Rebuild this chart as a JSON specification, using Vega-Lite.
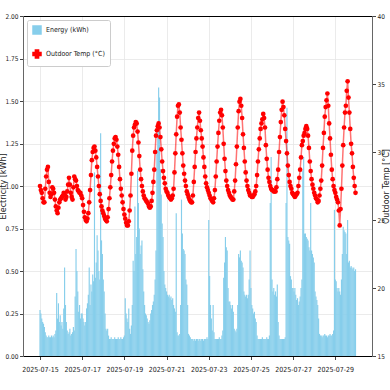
{
"$schema": "https://vega.github.io/schema/vega-lite/v6.json",
"width": 349, "height": 340,
"autosize": {"type": "none"},
"padding": {"left": 23, "top": 16, "right": 18, "bottom": 34},
"background": "white",
"config": {"view": {"stroke": null}, "axis": {"labelFont": "Liberation Sans Narrow, DejaVu Sans Condensed, Liberation Sans, sans-serif", "labelColor": "#222", "tickColor": "#444", "tickSize": 3.5, "gridColor": "#e6e6e6", "gridWidth": 0.8, "titleFont": "DejaVu Sans, sans-serif", "titleFontWeight": "normal", "titleColor": "#222", "titleFontSize": 8}},
"data": {"values": [
{"t":"2025-07-15T00:00","e":0.27,"c":27.5},{"t":"2025-07-15T01:00","e":0.25,"c":27.2},{"t":"2025-07-15T02:00","e":0.22,"c":27.0},{"t":"2025-07-15T03:00","e":0.20,"c":26.6},{"t":"2025-07-15T04:00","e":0.19,"c":26.3},{"t":"2025-07-15T05:00","e":0.17,"c":26.3},{"t":"2025-07-15T06:00","e":0.14,"c":27.3},{"t":"2025-07-15T07:00","e":0.12,"c":28.2},{"t":"2025-07-15T08:00","e":0.11,"c":28.7},{"t":"2025-07-15T09:00","e":0.11,"c":28.9},{"t":"2025-07-15T10:00","e":0.12,"c":27.8},{"t":"2025-07-15T11:00","e":0.11,"c":27.0},{"t":"2025-07-15T12:00","e":0.11,"c":26.7},{"t":"2025-07-15T13:00","e":0.12,"c":26.9},{"t":"2025-07-15T14:00","e":0.11,"c":27.4},{"t":"2025-07-15T15:00","e":0.12,"c":27.3},{"t":"2025-07-15T16:00","e":0.11,"c":27.0},{"t":"2025-07-15T17:00","e":0.13,"c":26.5},{"t":"2025-07-15T18:00","e":0.15,"c":26.0},{"t":"2025-07-15T19:00","e":0.37,"c":25.7},{"t":"2025-07-15T20:00","e":0.22,"c":25.5},{"t":"2025-07-15T21:00","e":0.31,"c":25.9},{"t":"2025-07-15T22:00","e":0.20,"c":26.3},{"t":"2025-07-15T23:00","e":0.24,"c":26.5},
{"t":"2025-07-16T00:00","e":0.18,"c":26.6},{"t":"2025-07-16T01:00","e":0.20,"c":26.7},{"t":"2025-07-16T02:00","e":0.16,"c":26.8},{"t":"2025-07-16T03:00","e":0.28,"c":27.0},{"t":"2025-07-16T04:00","e":0.52,"c":26.9},{"t":"2025-07-16T05:00","e":0.30,"c":26.5},{"t":"2025-07-16T06:00","e":0.20,"c":26.7},{"t":"2025-07-16T07:00","e":0.15,"c":27.1},{"t":"2025-07-16T08:00","e":0.13,"c":27.6},{"t":"2025-07-16T09:00","e":0.14,"c":28.1},{"t":"2025-07-16T10:00","e":0.16,"c":27.6},{"t":"2025-07-16T11:00","e":0.12,"c":27.0},{"t":"2025-07-16T12:00","e":0.13,"c":26.7},{"t":"2025-07-16T13:00","e":0.14,"c":26.5},{"t":"2025-07-16T14:00","e":0.17,"c":27.4},{"t":"2025-07-16T15:00","e":0.15,"c":28.2},{"t":"2025-07-16T16:00","e":0.35,"c":28.0},{"t":"2025-07-16T17:00","e":0.63,"c":27.9},{"t":"2025-07-16T18:00","e":0.50,"c":27.5},{"t":"2025-07-16T19:00","e":0.38,"c":27.2},{"t":"2025-07-16T20:00","e":0.26,"c":27.1},{"t":"2025-07-16T21:00","e":0.30,"c":27.0},{"t":"2025-07-16T22:00","e":0.22,"c":27.0},{"t":"2025-07-16T23:00","e":0.25,"c":26.8},
{"t":"2025-07-17T00:00","e":0.25,"c":26.6},{"t":"2025-07-17T01:00","e":0.22,"c":26.1},{"t":"2025-07-17T02:00","e":0.20,"c":25.6},{"t":"2025-07-17T03:00","e":0.18,"c":25.2},{"t":"2025-07-17T04:00","e":0.20,"c":25.0},{"t":"2025-07-17T05:00","e":0.28,"c":24.9},{"t":"2025-07-17T06:00","e":0.31,"c":25.1},{"t":"2025-07-17T07:00","e":0.36,"c":25.5},{"t":"2025-07-17T08:00","e":0.52,"c":26.3},{"t":"2025-07-17T09:00","e":0.30,"c":27.2},{"t":"2025-07-17T10:00","e":0.42,"c":28.3},{"t":"2025-07-17T11:00","e":0.38,"c":29.4},{"t":"2025-07-17T12:00","e":0.48,"c":30.0},{"t":"2025-07-17T13:00","e":0.44,"c":30.3},{"t":"2025-07-17T14:00","e":1.08,"c":30.4},{"t":"2025-07-17T15:00","e":0.46,"c":30.1},{"t":"2025-07-17T16:00","e":0.55,"c":29.6},{"t":"2025-07-17T17:00","e":0.71,"c":28.9},{"t":"2025-07-17T18:00","e":0.62,"c":28.2},{"t":"2025-07-17T19:00","e":0.50,"c":27.5},{"t":"2025-07-17T20:00","e":0.45,"c":26.9},{"t":"2025-07-17T21:00","e":1.31,"c":26.4},{"t":"2025-07-17T22:00","e":0.68,"c":26.0},{"t":"2025-07-17T23:00","e":0.60,"c":25.7},
{"t":"2025-07-18T00:00","e":0.45,"c":25.5},{"t":"2025-07-18T01:00","e":0.38,"c":25.3},{"t":"2025-07-18T02:00","e":0.25,"c":25.1},{"t":"2025-07-18T03:00","e":0.16,"c":25.0},{"t":"2025-07-18T04:00","e":0.15,"c":24.9},{"t":"2025-07-18T05:00","e":0.16,"c":25.2},{"t":"2025-07-18T06:00","e":0.12,"c":25.8},{"t":"2025-07-18T07:00","e":0.10,"c":26.6},{"t":"2025-07-18T08:00","e":0.10,"c":27.4},{"t":"2025-07-18T09:00","e":0.11,"c":28.3},{"t":"2025-07-18T10:00","e":0.10,"c":29.3},{"t":"2025-07-18T11:00","e":0.10,"c":30.1},{"t":"2025-07-18T12:00","e":0.10,"c":30.6},{"t":"2025-07-18T13:00","e":0.11,"c":31.0},{"t":"2025-07-18T14:00","e":0.10,"c":31.1},{"t":"2025-07-18T15:00","e":0.10,"c":30.9},{"t":"2025-07-18T16:00","e":0.10,"c":30.4},{"t":"2025-07-18T17:00","e":0.11,"c":29.8},{"t":"2025-07-18T18:00","e":0.10,"c":28.9},{"t":"2025-07-18T19:00","e":0.10,"c":28.0},{"t":"2025-07-18T20:00","e":0.11,"c":27.3},{"t":"2025-07-18T21:00","e":0.10,"c":26.8},{"t":"2025-07-18T22:00","e":0.10,"c":26.3},{"t":"2025-07-18T23:00","e":0.11,"c":25.8},
{"t":"2025-07-19T00:00","e":0.12,"c":25.4},{"t":"2025-07-19T01:00","e":0.34,"c":25.1},{"t":"2025-07-19T02:00","e":0.25,"c":24.8},{"t":"2025-07-19T03:00","e":0.22,"c":24.6},{"t":"2025-07-19T04:00","e":0.20,"c":24.6},{"t":"2025-07-19T05:00","e":0.28,"c":24.9},{"t":"2025-07-19T06:00","e":0.16,"c":25.7},{"t":"2025-07-19T07:00","e":0.13,"c":26.8},{"t":"2025-07-19T08:00","e":0.18,"c":28.4},{"t":"2025-07-19T09:00","e":0.30,"c":30.1},{"t":"2025-07-19T10:00","e":0.56,"c":31.2},{"t":"2025-07-19T11:00","e":0.50,"c":31.8},{"t":"2025-07-19T12:00","e":0.88,"c":32.0},{"t":"2025-07-19T13:00","e":0.60,"c":32.2},{"t":"2025-07-19T14:00","e":0.70,"c":32.1},{"t":"2025-07-19T15:00","e":1.09,"c":31.5},{"t":"2025-07-19T16:00","e":0.90,"c":30.7},{"t":"2025-07-19T17:00","e":0.75,"c":29.7},{"t":"2025-07-19T18:00","e":0.60,"c":28.7},{"t":"2025-07-19T19:00","e":0.65,"c":28.0},{"t":"2025-07-19T20:00","e":0.68,"c":27.5},{"t":"2025-07-19T21:00","e":0.51,"c":27.1},{"t":"2025-07-19T22:00","e":0.38,"c":26.8},{"t":"2025-07-19T23:00","e":0.30,"c":26.6},
{"t":"2025-07-20T00:00","e":0.25,"c":26.5},{"t":"2025-07-20T01:00","e":0.24,"c":26.4},{"t":"2025-07-20T02:00","e":0.22,"c":26.3},{"t":"2025-07-20T03:00","e":0.20,"c":26.2},{"t":"2025-07-20T04:00","e":0.19,"c":26.0},{"t":"2025-07-20T05:00","e":0.21,"c":25.9},{"t":"2025-07-20T06:00","e":0.25,"c":26.0},{"t":"2025-07-20T07:00","e":0.27,"c":26.4},{"t":"2025-07-20T08:00","e":0.30,"c":27.0},{"t":"2025-07-20T09:00","e":0.32,"c":27.8},{"t":"2025-07-20T10:00","e":0.36,"c":28.7},{"t":"2025-07-20T11:00","e":0.45,"c":30.0},{"t":"2025-07-20T12:00","e":0.62,"c":31.2},{"t":"2025-07-20T13:00","e":1.21,"c":31.6},{"t":"2025-07-20T14:00","e":1.33,"c":31.9},{"t":"2025-07-20T15:00","e":1.58,"c":32.1},{"t":"2025-07-20T16:00","e":1.52,"c":31.8},{"t":"2025-07-20T17:00","e":1.10,"c":31.1},{"t":"2025-07-20T18:00","e":0.95,"c":30.2},{"t":"2025-07-20T19:00","e":0.78,"c":29.3},{"t":"2025-07-20T20:00","e":0.70,"c":28.6},{"t":"2025-07-20T21:00","e":0.50,"c":28.1},{"t":"2025-07-20T22:00","e":0.42,"c":27.7},{"t":"2025-07-20T23:00","e":0.40,"c":27.3},
{"t":"2025-07-21T00:00","e":0.38,"c":27.1},{"t":"2025-07-21T01:00","e":0.36,"c":27.0},{"t":"2025-07-21T02:00","e":0.35,"c":26.8},{"t":"2025-07-21T03:00","e":0.36,"c":26.7},{"t":"2025-07-21T04:00","e":0.34,"c":26.6},{"t":"2025-07-21T05:00","e":0.35,"c":26.5},{"t":"2025-07-21T06:00","e":0.33,"c":26.6},{"t":"2025-07-21T07:00","e":0.34,"c":26.8},{"t":"2025-07-21T08:00","e":0.30,"c":27.3},{"t":"2025-07-21T09:00","e":0.28,"c":28.5},{"t":"2025-07-21T10:00","e":0.26,"c":29.9},{"t":"2025-07-21T11:00","e":0.84,"c":31.3},{"t":"2025-07-21T12:00","e":0.14,"c":32.6},{"t":"2025-07-21T13:00","e":0.12,"c":33.4},{"t":"2025-07-21T14:00","e":0.12,"c":33.5},{"t":"2025-07-21T15:00","e":0.13,"c":32.9},{"t":"2025-07-21T16:00","e":0.30,"c":31.8},{"t":"2025-07-21T17:00","e":0.92,"c":30.9},{"t":"2025-07-21T18:00","e":0.72,"c":29.9},{"t":"2025-07-21T19:00","e":0.63,"c":29.0},{"t":"2025-07-21T20:00","e":0.62,"c":28.4},{"t":"2025-07-21T21:00","e":0.60,"c":27.9},{"t":"2025-07-21T22:00","e":0.45,"c":27.5},{"t":"2025-07-21T23:00","e":0.42,"c":27.1},
{"t":"2025-07-22T00:00","e":0.30,"c":26.9},{"t":"2025-07-22T01:00","e":0.13,"c":26.7},{"t":"2025-07-22T02:00","e":0.12,"c":26.5},{"t":"2025-07-22T03:00","e":0.11,"c":26.4},{"t":"2025-07-22T04:00","e":0.10,"c":26.3},{"t":"2025-07-22T05:00","e":0.10,"c":26.3},{"t":"2025-07-22T06:00","e":0.10,"c":26.8},{"t":"2025-07-22T07:00","e":0.09,"c":27.8},{"t":"2025-07-22T08:00","e":0.10,"c":28.9},{"t":"2025-07-22T09:00","e":0.09,"c":30.0},{"t":"2025-07-22T10:00","e":0.10,"c":31.0},{"t":"2025-07-22T11:00","e":0.10,"c":31.8},{"t":"2025-07-22T12:00","e":0.09,"c":32.5},{"t":"2025-07-22T13:00","e":0.10,"c":32.9},{"t":"2025-07-22T14:00","e":0.10,"c":32.3},{"t":"2025-07-22T15:00","e":0.09,"c":31.6},{"t":"2025-07-22T16:00","e":0.10,"c":31.0},{"t":"2025-07-22T17:00","e":0.10,"c":30.4},{"t":"2025-07-22T18:00","e":0.09,"c":29.6},{"t":"2025-07-22T19:00","e":0.10,"c":28.9},{"t":"2025-07-22T20:00","e":0.10,"c":28.2},{"t":"2025-07-22T21:00","e":0.10,"c":27.7},{"t":"2025-07-22T22:00","e":0.11,"c":27.4},{"t":"2025-07-22T23:00","e":0.10,"c":27.2},
{"t":"2025-07-23T00:00","e":0.80,"c":27.0},{"t":"2025-07-23T01:00","e":0.47,"c":26.8},{"t":"2025-07-23T02:00","e":0.30,"c":26.6},{"t":"2025-07-23T03:00","e":0.22,"c":26.5},{"t":"2025-07-23T04:00","e":0.15,"c":26.4},{"t":"2025-07-23T05:00","e":0.30,"c":26.3},{"t":"2025-07-23T06:00","e":0.14,"c":26.6},{"t":"2025-07-23T07:00","e":0.10,"c":27.2},{"t":"2025-07-23T08:00","e":0.10,"c":28.2},{"t":"2025-07-23T09:00","e":0.10,"c":29.3},{"t":"2025-07-23T10:00","e":0.10,"c":30.4},{"t":"2025-07-23T11:00","e":0.10,"c":31.4},{"t":"2025-07-23T12:00","e":0.11,"c":32.3},{"t":"2025-07-23T13:00","e":0.10,"c":32.9},{"t":"2025-07-23T14:00","e":0.10,"c":33.1},{"t":"2025-07-23T15:00","e":0.12,"c":32.7},{"t":"2025-07-23T16:00","e":0.15,"c":31.8},{"t":"2025-07-23T17:00","e":0.46,"c":30.6},{"t":"2025-07-23T18:00","e":0.55,"c":29.5},{"t":"2025-07-23T19:00","e":0.70,"c":28.6},{"t":"2025-07-23T20:00","e":0.64,"c":27.9},{"t":"2025-07-23T21:00","e":0.62,"c":27.5},{"t":"2025-07-23T22:00","e":0.40,"c":27.2},{"t":"2025-07-23T23:00","e":0.32,"c":27.0},
{"t":"2025-07-24T00:00","e":0.32,"c":26.8},{"t":"2025-07-24T01:00","e":0.30,"c":26.7},{"t":"2025-07-24T02:00","e":0.28,"c":26.6},{"t":"2025-07-24T03:00","e":0.30,"c":26.5},{"t":"2025-07-24T04:00","e":0.26,"c":26.5},{"t":"2025-07-24T05:00","e":0.16,"c":27.1},{"t":"2025-07-24T06:00","e":0.15,"c":27.9},{"t":"2025-07-24T07:00","e":0.14,"c":29.1},{"t":"2025-07-24T08:00","e":0.16,"c":30.4},{"t":"2025-07-24T09:00","e":0.30,"c":31.8},{"t":"2025-07-24T10:00","e":0.60,"c":33.0},{"t":"2025-07-24T11:00","e":0.58,"c":33.7},{"t":"2025-07-24T12:00","e":0.62,"c":33.9},{"t":"2025-07-24T13:00","e":0.56,"c":33.4},{"t":"2025-07-24T14:00","e":0.55,"c":32.5},{"t":"2025-07-24T15:00","e":0.52,"c":31.3},{"t":"2025-07-24T16:00","e":0.38,"c":30.3},{"t":"2025-07-24T17:00","e":0.36,"c":29.3},{"t":"2025-07-24T18:00","e":0.35,"c":28.5},{"t":"2025-07-24T19:00","e":0.36,"c":27.9},{"t":"2025-07-24T20:00","e":0.34,"c":27.5},{"t":"2025-07-24T21:00","e":0.36,"c":27.2},{"t":"2025-07-24T22:00","e":0.45,"c":27.0},{"t":"2025-07-24T23:00","e":0.62,"c":26.8},
{"t":"2025-07-25T00:00","e":0.40,"c":26.8},{"t":"2025-07-25T01:00","e":0.30,"c":26.7},{"t":"2025-07-25T02:00","e":0.28,"c":26.7},{"t":"2025-07-25T03:00","e":0.25,"c":26.8},{"t":"2025-07-25T04:00","e":0.26,"c":26.9},{"t":"2025-07-25T05:00","e":0.22,"c":27.1},{"t":"2025-07-25T06:00","e":0.20,"c":27.5},{"t":"2025-07-25T07:00","e":0.12,"c":28.3},{"t":"2025-07-25T08:00","e":0.10,"c":29.3},{"t":"2025-07-25T09:00","e":0.10,"c":30.2},{"t":"2025-07-25T10:00","e":0.10,"c":31.0},{"t":"2025-07-25T11:00","e":0.10,"c":31.7},{"t":"2025-07-25T12:00","e":0.10,"c":32.1},{"t":"2025-07-25T13:00","e":0.11,"c":32.4},{"t":"2025-07-25T14:00","e":0.10,"c":32.8},{"t":"2025-07-25T15:00","e":0.10,"c":32.5},{"t":"2025-07-25T16:00","e":0.10,"c":31.8},{"t":"2025-07-25T17:00","e":0.10,"c":30.5},{"t":"2025-07-25T18:00","e":0.11,"c":29.5},{"t":"2025-07-25T19:00","e":0.10,"c":28.7},{"t":"2025-07-25T20:00","e":0.10,"c":28.1},{"t":"2025-07-25T21:00","e":0.12,"c":27.8},{"t":"2025-07-25T22:00","e":0.90,"c":27.5},{"t":"2025-07-25T23:00","e":1.17,"c":27.3},
{"t":"2025-07-26T00:00","e":0.45,"c":27.2},{"t":"2025-07-26T01:00","e":0.38,"c":27.2},{"t":"2025-07-26T02:00","e":0.40,"c":27.1},{"t":"2025-07-26T03:00","e":0.36,"c":27.1},{"t":"2025-07-26T04:00","e":0.38,"c":27.1},{"t":"2025-07-26T05:00","e":0.35,"c":27.4},{"t":"2025-07-26T06:00","e":0.42,"c":28.0},{"t":"2025-07-26T07:00","e":0.20,"c":28.7},{"t":"2025-07-26T08:00","e":0.12,"c":30.0},{"t":"2025-07-26T09:00","e":0.10,"c":31.1},{"t":"2025-07-26T10:00","e":0.10,"c":32.2},{"t":"2025-07-26T11:00","e":0.10,"c":33.1},{"t":"2025-07-26T12:00","e":0.10,"c":33.7},{"t":"2025-07-26T13:00","e":0.10,"c":33.3},{"t":"2025-07-26T14:00","e":0.10,"c":32.7},{"t":"2025-07-26T15:00","e":0.11,"c":31.7},{"t":"2025-07-26T16:00","e":0.90,"c":30.8},{"t":"2025-07-26T17:00","e":1.46,"c":29.9},{"t":"2025-07-26T18:00","e":0.70,"c":29.0},{"t":"2025-07-26T19:00","e":0.68,"c":28.3},{"t":"2025-07-26T20:00","e":0.66,"c":27.8},{"t":"2025-07-26T21:00","e":0.47,"c":27.5},{"t":"2025-07-26T22:00","e":0.45,"c":27.3},{"t":"2025-07-26T23:00","e":0.40,"c":27.0},
{"t":"2025-07-27T00:00","e":0.40,"c":26.9},{"t":"2025-07-27T01:00","e":0.38,"c":26.8},{"t":"2025-07-27T02:00","e":0.40,"c":26.7},{"t":"2025-07-27T03:00","e":0.36,"c":26.8},{"t":"2025-07-27T04:00","e":0.33,"c":26.9},{"t":"2025-07-27T05:00","e":0.34,"c":27.0},{"t":"2025-07-27T06:00","e":0.30,"c":27.5},{"t":"2025-07-27T07:00","e":0.32,"c":28.1},{"t":"2025-07-27T08:00","e":0.35,"c":28.7},{"t":"2025-07-27T09:00","e":0.40,"c":29.6},{"t":"2025-07-27T10:00","e":0.45,"c":30.5},{"t":"2025-07-27T11:00","e":1.09,"c":30.8},{"t":"2025-07-27T12:00","e":1.17,"c":31.2},{"t":"2025-07-27T13:00","e":0.72,"c":31.4},{"t":"2025-07-27T14:00","e":0.72,"c":31.7},{"t":"2025-07-27T15:00","e":0.70,"c":31.9},{"t":"2025-07-27T16:00","e":0.69,"c":31.7},{"t":"2025-07-27T17:00","e":0.68,"c":31.2},{"t":"2025-07-27T18:00","e":0.64,"c":30.3},{"t":"2025-07-27T19:00","e":0.62,"c":29.3},{"t":"2025-07-27T20:00","e":0.90,"c":28.6},{"t":"2025-07-27T21:00","e":0.62,"c":28.0},{"t":"2025-07-27T22:00","e":0.60,"c":27.6},{"t":"2025-07-27T23:00","e":0.58,"c":27.3},
{"t":"2025-07-28T00:00","e":0.55,"c":27.0},{"t":"2025-07-28T01:00","e":0.38,"c":26.8},{"t":"2025-07-28T02:00","e":0.35,"c":26.6},{"t":"2025-07-28T03:00","e":0.33,"c":26.5},{"t":"2025-07-28T04:00","e":0.30,"c":26.3},{"t":"2025-07-28T05:00","e":0.22,"c":26.4},{"t":"2025-07-28T06:00","e":0.13,"c":26.8},{"t":"2025-07-28T07:00","e":0.12,"c":27.3},{"t":"2025-07-28T08:00","e":0.12,"c":27.9},{"t":"2025-07-28T09:00","e":0.11,"c":29.0},{"t":"2025-07-28T10:00","e":0.12,"c":30.3},{"t":"2025-07-28T11:00","e":0.12,"c":31.4},{"t":"2025-07-28T12:00","e":0.13,"c":32.6},{"t":"2025-07-28T13:00","e":0.12,"c":33.3},{"t":"2025-07-28T14:00","e":0.12,"c":33.8},{"t":"2025-07-28T15:00","e":0.11,"c":34.3},{"t":"2025-07-28T16:00","e":0.12,"c":33.4},{"t":"2025-07-28T17:00","e":0.12,"c":32.1},{"t":"2025-07-28T18:00","e":0.13,"c":31.0},{"t":"2025-07-28T19:00","e":0.12,"c":29.8},{"t":"2025-07-28T20:00","e":0.12,"c":28.7},{"t":"2025-07-28T21:00","e":0.13,"c":28.0},{"t":"2025-07-28T22:00","e":0.15,"c":27.5},{"t":"2025-07-28T23:00","e":0.86,"c":27.2},
{"t":"2025-07-29T00:00","e":0.45,"c":27.0},{"t":"2025-07-29T01:00","e":0.44,"c":26.7},{"t":"2025-07-29T02:00","e":0.40,"c":26.5},{"t":"2025-07-29T03:00","e":0.38,"c":26.3},{"t":"2025-07-29T04:00","e":0.40,"c":25.7},{"t":"2025-07-29T05:00","e":0.38,"c":24.6},{"t":"2025-07-29T06:00","e":0.36,"c":25.8},{"t":"2025-07-29T07:00","e":0.45,"c":27.3},{"t":"2025-07-29T08:00","e":0.60,"c":29.0},{"t":"2025-07-29T09:00","e":0.76,"c":30.5},{"t":"2025-07-29T10:00","e":0.74,"c":31.8},{"t":"2025-07-29T11:00","e":0.73,"c":32.9},{"t":"2025-07-29T12:00","e":0.72,"c":33.4},{"t":"2025-07-29T13:00","e":0.60,"c":34.5},{"t":"2025-07-29T14:00","e":0.80,"c":35.2},{"t":"2025-07-29T15:00","e":0.55,"c":34.0},{"t":"2025-07-29T16:00","e":0.56,"c":32.9},{"t":"2025-07-29T17:00","e":0.52,"c":31.7},{"t":"2025-07-29T18:00","e":0.53,"c":30.6},{"t":"2025-07-29T19:00","e":0.52,"c":29.9},{"t":"2025-07-29T20:00","e":0.51,"c":28.9},{"t":"2025-07-29T21:00","e":0.52,"c":28.1},{"t":"2025-07-29T22:00","e":0.50,"c":27.5},{"t":"2025-07-29T23:00","e":0.51,"c":27.0}
]},
"layer": [
{"mark": {"type": "bar", "color": "#87ceeb", "width": 1.15},
 "encoding": {
  "x": {"field": "t", "type": "temporal",
        "scale": {"padding": 0, "nice": false, "domain": [{"year": 2025, "month": 7, "date": 14, "hours": 4, "minutes": 40}, {"year": 2025, "month": 7, "date": 30, "hours": 17, "minutes": 45}]},
        "axis": {"orient": "bottom", "title": null, "format": "%Y-%m-%d", "labelFontSize": 7, "labelPadding": 6, "labelOverlap": false, "grid": true, "domainColor": "#000", "domainWidth": 1.2,
                 "values": [{"year": 2025, "month": 7, "date": 15}, {"year": 2025, "month": 7, "date": 17}, {"year": 2025, "month": 7, "date": 19}, {"year": 2025, "month": 7, "date": 21}, {"year": 2025, "month": 7, "date": 23}, {"year": 2025, "month": 7, "date": 25}, {"year": 2025, "month": 7, "date": 27}, {"year": 2025, "month": 7, "date": 29}]}},
  "y": {"field": "e", "type": "quantitative", "scale": {"domain": [0, 2]},
        "axis": {"orient": "left", "title": "Electricity [kWh]", "values": [0, 0.25, 0.5, 0.75, 1, 1.25, 1.5, 1.75, 2], "format": ".2f", "labelFontSize": 6.5, "labelPadding": 1.5, "grid": true, "domainColor": "#666", "titleX": -19.5, "titleY": 170, "titleAngle": 270, "titleBaseline": "middle"}},
  "color": {"datum": "Energy (kWh)", "type": "nominal",
            "scale": {"domain": ["Energy (kWh)", "Outdoor Temp (°C)"], "range": ["#87ceeb", "#ff0000"]},
            "legend": {"orient": "top-left", "offset": 4, "title": null, "fillColor": "white", "strokeColor": "#cccccc", "padding": 5, "cornerRadius": 2, "labelFont": "Liberation Sans Narrow, DejaVu Sans Condensed, Liberation Sans, sans-serif", "labelFontSize": 7, "labelColor": "#222", "rowPadding": 10, "symbolSize": 64, "labelOffset": 4,
                       "encode": {"symbols": {"update": {"shape": [{"test": "datum.value === 'Energy (kWh)'", "value": "square"}, {"value": "cross"}], "fill": [{"test": "datum.value === 'Energy (kWh)'", "value": "#87ceeb"}, {"value": "#ff0000"}], "stroke": {"value": "transparent"}, "opacity": {"value": 1}}}}}}
 }},
{"encoding": {
  "x": {"field": "t", "type": "temporal", "axis": {"orient": "top", "labels": false, "ticks": false, "grid": false, "title": null, "domainColor": "#000", "domainWidth": 1.2}},
  "y": {"field": "c", "type": "quantitative", "scale": {"domain": [15, 40]},
        "axis": {"orient": "right", "title": "Outdoor Temp [°C]", "values": [15, 20, 25, 30, 35, 40], "format": "d", "labelFontSize": 6.5, "labelPadding": 1.5, "grid": false, "domainColor": "#666", "titleX": 14, "titleY": 170, "titleAngle": 270, "titleBaseline": "middle"}},
  "color": {"datum": "Outdoor Temp (°C)", "type": "nominal"}
 },
 "layer": [
  {"mark": {"type": "line", "strokeWidth": 1.5, "opacity": 0.55}},
  {"mark": {"type": "point", "filled": true, "size": 22, "opacity": 1}}
 ]}
],
"resolve": {"scale": {"y": "independent"}, "axis": {"x": "independent", "y": "independent"}}
}
